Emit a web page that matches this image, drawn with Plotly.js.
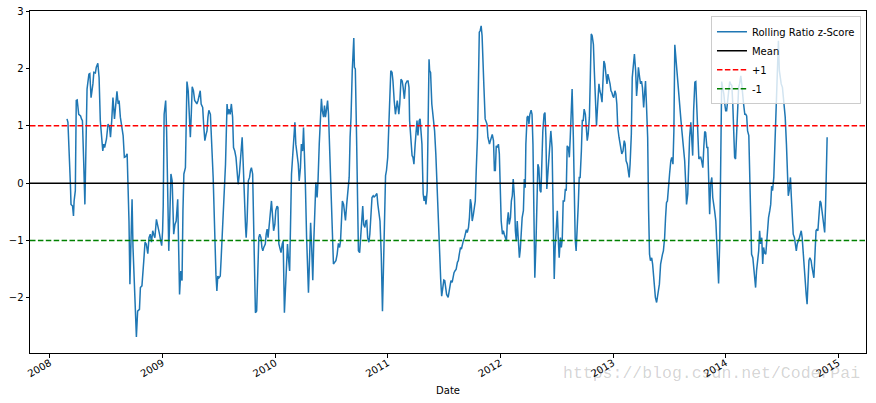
<!DOCTYPE html>
<html>
<head>
<meta charset="utf-8">
<script src="https://cdn.plot.ly/plotly-3.0.1.min.js"></script>
<style>html,body{margin:0;padding:0;background:#fff;}#chart{width:876px;height:403px;}</style>
</head>
<body>
<div id="chart"></div>
<script>
// Rolling ratio z-score
const dates = [
'2008-02-26','2008-02-29','2008-03-08','2008-03-10','2008-03-15','2008-03-18','2008-03-20','2008-03-24','2008-03-27','2008-03-30',
'2008-04-04','2008-04-10','2008-04-13','2008-04-16','2008-04-20','2008-04-24','2008-05-01','2008-05-07','2008-05-10','2008-05-14',
'2008-05-20','2008-05-23','2008-05-28','2008-05-31','2008-06-05','2008-06-09','2008-06-13','2008-06-17','2008-06-21','2008-06-24',
'2008-06-27','2008-07-03','2008-07-08','2008-07-13','2008-07-16','2008-07-20','2008-07-24','2008-07-29','2008-08-02','2008-08-06',
'2008-08-10','2008-08-13','2008-08-17','2008-08-23','2008-08-26','2008-08-30','2008-09-03','2008-09-08','2008-09-11','2008-09-14',
'2008-09-17','2008-09-21','2008-09-24','2008-09-27','2008-10-02','2008-10-08','2008-10-12','2008-10-18','2008-10-21','2008-10-26',
'2008-11-01','2008-11-05','2008-11-09','2008-11-14','2008-11-18','2008-11-22','2008-11-26','2008-11-30','2008-12-03','2008-12-07',
'2008-12-12','2008-12-16','2008-12-22','2008-12-26','2008-12-29','2009-01-01','2009-01-03','2009-01-06','2009-01-11','2009-01-14',
'2009-01-17','2009-01-21','2009-01-24','2009-01-28','2009-02-01','2009-02-04','2009-02-06','2009-02-10','2009-02-14','2009-02-19',
'2009-02-22','2009-02-25','2009-03-01','2009-03-05','2009-03-08','2009-03-11','2009-03-16','2009-03-18','2009-03-21','2009-03-25',
'2009-03-30','2009-04-01','2009-04-04','2009-04-07','2009-04-11','2009-04-15','2009-04-19','2009-04-22','2009-04-26','2009-04-30',
'2009-05-03','2009-05-06','2009-05-11','2009-05-14','2009-05-18','2009-05-22','2009-05-25','2009-05-28','2009-05-31','2009-06-05',
'2009-06-08','2009-06-11','2009-06-14','2009-06-18','2009-06-20','2009-06-23','2009-06-26','2009-06-29','2009-07-03','2009-07-07',
'2009-07-10','2009-07-13','2009-07-18','2009-07-21','2009-07-24','2009-07-29','2009-08-01','2009-08-04','2009-08-08','2009-08-12',
'2009-08-16','2009-08-19','2009-08-23','2009-08-27','2009-08-30','2009-09-03','2009-09-07','2009-09-10','2009-09-13','2009-09-16',
'2009-09-19','2009-09-23','2009-09-27','2009-09-29','2009-10-02','2009-10-06','2009-10-10','2009-10-13','2009-10-16','2009-10-20',
'2009-10-23','2009-10-26','2009-10-29','2009-11-02','2009-11-05','2009-11-09','2009-11-12','2009-11-16','2009-11-19','2009-11-22',
'2009-11-25','2009-11-30','2009-12-03','2009-12-06','2009-12-09','2009-12-14','2009-12-17','2009-12-20','2009-12-24','2009-12-27',
'2009-12-31','2010-01-03','2010-01-07','2010-01-10','2010-01-13','2010-01-16','2010-01-20','2010-01-24','2010-01-27','2010-01-31',
'2010-02-04','2010-02-07','2010-02-10','2010-02-13','2010-02-17','2010-02-23','2010-02-26','2010-03-03','2010-03-06','2010-03-09',
'2010-03-13','2010-03-17','2010-03-20','2010-03-24','2010-03-27','2010-03-31','2010-04-03','2010-04-06','2010-04-09','2010-04-13',
'2010-04-16','2010-04-19','2010-04-22','2010-04-26','2010-04-29','2010-05-03','2010-05-06','2010-05-10','2010-05-13','2010-05-17',
'2010-05-20','2010-05-24','2010-05-27','2010-05-31','2010-06-03','2010-06-07','2010-06-10','2010-06-13','2010-06-16','2010-06-20',
'2010-06-23','2010-06-26','2010-06-29','2010-07-03','2010-07-06','2010-07-09','2010-07-13','2010-07-17','2010-07-21','2010-07-25',
'2010-07-29','2010-08-01','2010-08-04','2010-08-07','2010-08-11','2010-08-14','2010-08-17','2010-08-21','2010-08-26','2010-08-29',
'2010-09-01','2010-09-04','2010-09-08','2010-09-11','2010-09-13','2010-09-15','2010-09-18','2010-09-22','2010-09-25','2010-09-28',
'2010-10-02','2010-10-06','2010-10-09','2010-10-12','2010-10-15','2010-10-19','2010-10-22','2010-10-25','2010-10-28','2010-11-01',
'2010-11-04','2010-11-07','2010-11-11','2010-11-15','2010-11-18','2010-11-22','2010-11-27','2010-11-30','2010-12-04','2010-12-07',
'2010-12-11','2010-12-15','2010-12-18','2010-12-21','2010-12-25','2010-12-28','2011-01-01','2011-01-04','2011-01-08','2011-01-11',
'2011-01-15','2011-01-18','2011-01-22','2011-01-26','2011-01-29','2011-02-01','2011-02-06','2011-02-09','2011-02-13','2011-02-17',
'2011-02-20','2011-02-24','2011-02-28','2011-03-05','2011-03-08','2011-03-11','2011-03-13','2011-03-17','2011-03-21','2011-03-24',
'2011-03-27','2011-03-31','2011-04-03','2011-04-06','2011-04-09','2011-04-13','2011-04-16','2011-04-19','2011-04-22','2011-04-26',
'2011-04-29','2011-05-02','2011-05-05','2011-05-09','2011-05-12','2011-05-15','2011-05-17','2011-05-20','2011-05-24','2011-05-27',
'2011-05-30','2011-06-02','2011-06-06','2011-06-09','2011-06-12','2011-06-15','2011-06-19','2011-06-22','2011-06-25','2011-06-28',
'2011-07-02','2011-07-05','2011-07-08','2011-07-11','2011-07-16','2011-07-19','2011-07-22','2011-07-25','2011-07-29','2011-08-01',
'2011-08-04','2011-08-07','2011-08-11','2011-08-15','2011-08-18','2011-08-21','2011-08-25','2011-08-28','2011-08-31','2011-09-03',
'2011-09-07','2011-09-10','2011-09-13','2011-09-16','2011-09-20','2011-09-23','2011-09-26','2011-09-29','2011-10-02','2011-10-06',
'2011-10-09','2011-10-12','2011-10-15','2011-10-19','2011-10-22','2011-10-25','2011-10-28','2011-10-31','2011-11-03','2011-11-06',
'2011-11-09','2011-11-13','2011-11-16','2011-11-19','2011-11-22','2011-11-27','2011-11-30','2011-12-03','2011-12-06','2011-12-10',
'2011-12-13','2011-12-16','2011-12-19','2011-12-22','2011-12-26','2011-12-29','2012-01-01','2012-01-04','2012-01-08','2012-01-11',
'2012-01-14','2012-01-17','2012-01-21','2012-01-24','2012-01-27','2012-01-30','2012-02-03','2012-02-06','2012-02-09','2012-02-12',
'2012-02-16','2012-02-19','2012-02-22','2012-02-25','2012-02-28','2012-03-03','2012-03-06','2012-03-09','2012-03-12','2012-03-16',
'2012-03-19','2012-03-22','2012-03-24','2012-03-28','2012-03-31','2012-04-03','2012-04-06','2012-04-10','2012-04-13','2012-04-16',
'2012-04-19','2012-04-22','2012-04-26','2012-04-29','2012-05-02','2012-05-05','2012-05-09','2012-05-12','2012-05-15','2012-05-18',
'2012-05-22','2012-05-25','2012-05-28','2012-05-31','2012-06-04','2012-06-07','2012-06-10','2012-06-13','2012-06-17','2012-06-20',
'2012-06-24','2012-06-27','2012-07-01','2012-07-04','2012-07-07','2012-07-10','2012-07-14','2012-07-17','2012-07-20','2012-07-23',
'2012-07-27','2012-07-30','2012-08-02','2012-08-05','2012-08-09','2012-08-12','2012-08-15','2012-08-18','2012-08-21','2012-08-25',
'2012-08-28','2012-08-31','2012-09-03','2012-09-07','2012-09-10','2012-09-13','2012-09-16','2012-09-20','2012-09-23','2012-09-26',
'2012-09-29','2012-10-03','2012-10-06','2012-10-09','2012-10-12','2012-10-16','2012-10-19','2012-10-22','2012-10-25','2012-10-29',
'2012-11-01','2012-11-04','2012-11-08','2012-11-12','2012-11-16','2012-11-19','2012-11-22','2012-11-26','2012-11-29','2012-12-02',
'2012-12-05','2012-12-09','2012-12-12','2012-12-15','2012-12-18','2012-12-22','2012-12-25','2012-12-28','2012-12-31','2013-01-03',
'2013-01-07','2013-01-10','2013-01-13','2013-01-16','2013-01-20','2013-01-23','2013-01-26','2013-01-29','2013-02-02','2013-02-06',
'2013-02-09','2013-02-12','2013-02-16','2013-02-19','2013-02-22','2013-02-25','2013-03-01','2013-03-04','2013-03-08','2013-03-11',
'2013-03-15','2013-03-18','2013-03-21','2013-03-24','2013-03-28','2013-03-31','2013-04-03','2013-04-06','2013-04-10','2013-04-13',
'2013-04-16','2013-04-19','2013-04-23','2013-04-26','2013-04-29','2013-05-02','2013-05-06','2013-05-09','2013-05-12','2013-05-15',
'2013-05-18','2013-05-22','2013-05-25','2013-05-28','2013-05-31','2013-06-04','2013-06-07','2013-06-10','2013-06-13','2013-06-17',
'2013-06-20','2013-06-23','2013-06-26','2013-06-30','2013-07-03','2013-07-07','2013-07-10','2013-07-14','2013-07-17','2013-07-20',
'2013-07-23','2013-07-27','2013-07-30','2013-08-02','2013-08-05','2013-08-09','2013-08-12','2013-08-15','2013-08-18','2013-08-21',
'2013-08-25','2013-08-27','2013-08-31','2013-09-03','2013-09-06','2013-09-10','2013-09-13','2013-09-16','2013-09-19','2013-09-23',
'2013-09-26','2013-09-29','2013-10-02','2013-10-06','2013-10-09','2013-10-12','2013-10-15','2013-10-19','2013-10-22','2013-10-25',
'2013-10-28','2013-11-01','2013-11-04','2013-11-07','2013-11-10','2013-11-13','2013-11-17','2013-11-20','2013-11-23','2013-11-26',
'2013-11-30','2013-12-03','2013-12-06','2013-12-09','2013-12-13','2013-12-16','2013-12-19','2013-12-22','2013-12-26','2013-12-29',
'2014-01-01','2014-01-04','2014-01-08','2014-01-11','2014-01-14','2014-01-17','2014-01-21','2014-01-24','2014-01-27','2014-01-30',
'2014-02-02','2014-02-06','2014-02-09','2014-02-12','2014-02-15','2014-02-19','2014-02-22','2014-02-25','2014-02-28','2014-03-04',
'2014-03-07','2014-03-10','2014-03-13','2014-03-17','2014-03-20','2014-03-23','2014-03-26','2014-03-30','2014-04-02','2014-04-05',
'2014-04-08','2014-04-11','2014-04-15','2014-04-18','2014-04-21','2014-04-24','2014-04-28','2014-05-01','2014-05-04','2014-05-07',
'2014-05-11','2014-05-14','2014-05-17','2014-05-20','2014-05-24','2014-05-27','2014-05-30','2014-06-02','2014-06-06','2014-06-09',
'2014-06-12','2014-06-15','2014-06-18','2014-06-21','2014-06-24','2014-06-27','2014-06-30','2014-07-04','2014-07-07','2014-07-10',
'2014-07-13','2014-07-17','2014-07-20','2014-07-23','2014-07-26','2014-07-30','2014-08-02','2014-08-05','2014-08-08','2014-08-12',
'2014-08-15','2014-08-18','2014-08-21','2014-08-25','2014-08-28','2014-08-31','2014-09-03','2014-09-06','2014-09-10','2014-09-13',
'2014-09-16','2014-09-19','2014-09-22','2014-09-25','2014-09-28','2014-10-01','2014-10-05','2014-10-08','2014-10-11','2014-10-14',
'2014-10-18','2014-10-21','2014-10-24','2014-10-27','2014-10-30','2014-11-03','2014-11-06','2014-11-09','2014-11-12','2014-11-16',
'2014-11-18','2014-11-21','2014-11-24','2014-11-26'
];
const zscore = [
1.12,1.06,-0.02,-0.37,-0.40,-0.57,-0.31,-0.13,1.44,1.45,
1.20,1.17,1.12,1.09,0.39,-0.37,1.64,1.90,1.91,1.49,
1.73,1.93,1.92,2.02,2.09,1.84,1.09,0.80,0.56,0.68,
0.62,0.77,1.03,0.98,0.80,1.09,1.49,1.12,1.38,1.60,
1.38,1.44,1.15,0.91,0.83,0.45,0.46,0.51,-0.02,-0.66,
-1.76,-0.95,-0.28,-1.12,-1.99,-2.68,-2.23,-2.20,-1.82,-1.79,
-1.35,-1.03,-1.06,-1.23,-0.95,-0.89,-1.03,-0.83,-0.89,-0.95,
-0.63,-0.72,-0.89,-1.01,-1.09,-0.83,-0.40,1.20,1.44,0.91,
-0.37,-1.18,-0.66,0.16,0.04,-0.60,-0.89,-0.72,-0.66,-0.28,
-0.95,-1.94,-1.53,-1.70,-0.48,0.16,0.27,1.32,1.77,1.61,
1.15,0.80,1.20,1.68,1.61,1.44,1.41,1.38,1.44,1.52,
1.61,1.38,1.32,1.03,0.74,0.85,0.91,1.15,1.27,1.20,
0.91,0.56,0.10,-0.66,-1.35,-1.59,-1.88,-1.62,-1.65,-1.62,
-1.30,-0.95,-0.48,-0.25,0.33,1.38,1.20,1.29,1.20,1.38,
1.15,0.62,0.56,0.45,0.22,-0.02,0.16,0.39,0.62,0.80,
0.39,-0.37,-0.77,-0.95,-0.66,0.04,0.10,0.22,0.27,0.16,
-0.60,-1.53,-2.26,-2.23,-1.65,-0.95,-0.89,-0.95,-1.12,-1.18,
-1.12,-1.06,-0.89,-0.80,-0.95,-0.60,-0.37,-0.31,-0.60,-0.83,
-0.72,-0.48,-0.40,-0.42,-1.06,-1.12,-1.21,-1.06,-1.01,-2.26,
-1.70,-1.35,-1.06,-1.30,-1.53,0.16,0.39,0.91,1.06,0.68,
0.51,0.33,0.04,0.27,0.68,0.56,0.97,0.56,-0.02,-0.95,
-1.53,-1.91,-1.41,-0.69,-1.06,-1.69,-1.06,-0.48,0.01,-0.25,
0.04,0.68,1.17,1.47,1.26,1.15,1.35,1.15,1.26,1.44,
1.20,0.68,0.10,-0.60,-0.95,-1.41,-1.38,-1.35,-1.24,-1.05,
-1.12,-1.01,-0.66,-0.31,-0.37,-0.51,-0.65,-0.37,-0.13,0.10,
0.80,1.15,1.96,2.25,2.53,2.02,1.99,0.80,-0.25,-1.18,
-1.21,-0.95,-0.60,-0.40,-0.72,-0.77,-0.66,-0.65,-0.95,-1.03,
-0.89,-0.48,-0.25,-0.22,-0.24,-0.22,-0.18,-0.37,-0.51,-0.66,
-1.24,-2.23,-1.53,-0.83,0.13,0.22,0.45,0.91,1.38,1.96,
1.93,1.78,1.44,1.20,1.32,1.44,1.20,1.38,1.81,1.78,
1.67,1.47,1.73,1.78,1.78,1.67,1.09,0.80,0.48,0.45,
0.33,0.68,0.97,1.09,0.83,1.09,1.12,0.91,0.68,-0.19,
-0.31,-0.22,-0.37,-0.13,1.67,2.16,1.96,1.93,1.38,1.20,
1.09,0.91,0.51,0.10,-0.48,-1.01,-1.41,-1.70,-1.97,-1.82,
-1.69,-1.70,-1.82,-1.94,-1.99,-1.88,-1.76,-1.70,-1.73,-1.59,
-1.56,-1.53,-1.50,-1.38,-1.35,-1.24,-1.12,-1.15,-1.06,-1.01,
-0.95,-0.89,-0.81,-0.86,-0.77,-0.60,-0.28,-0.37,-0.66,-0.54,
-0.42,-0.31,0.22,0.80,1.67,2.63,2.66,2.74,2.57,2.25,
1.67,1.12,1.08,1.03,0.80,0.68,0.74,0.80,0.85,0.74,
0.22,0.22,0.65,0.62,0.68,0.51,-0.37,-0.66,-0.89,-0.83,
-0.89,-0.95,-1.01,-0.66,-0.51,-0.72,-0.60,-0.31,-0.22,0.07,
-0.25,-0.83,-1.01,-0.66,-0.89,-1.30,-1.15,-0.83,-0.60,-0.48,
0.07,-0.08,0.68,1.15,1.17,1.03,1.20,1.27,1.20,0.68,
-0.48,-1.65,-1.01,-0.25,0.33,0.27,-0.13,-0.16,0.62,0.91,
1.20,1.23,0.80,-0.10,0.22,0.39,0.68,0.91,0.62,-0.37,
-1.67,-1.12,-0.66,-0.48,-0.95,-1.30,-0.95,-1.12,-0.98,-0.31,
-0.31,-0.10,-0.13,0.65,0.62,0.45,0.80,1.20,1.64,0.80,
-0.48,-0.98,-1.18,-0.83,-0.37,0.10,0.10,0.56,1.09,1.09,
1.29,1.20,1.03,0.74,0.85,1.15,1.84,2.60,2.57,2.42,
1.96,1.49,1.00,1.38,1.73,1.61,1.55,1.41,1.73,2.13,
2.08,1.84,1.73,1.90,1.84,1.73,1.61,1.58,1.52,1.49,
1.61,1.55,1.38,0.97,0.80,0.68,0.59,0.51,0.56,0.74,
0.68,0.39,0.33,0.22,0.10,0.33,0.85,1.84,2.13,2.25,
1.96,1.52,1.73,2.02,1.84,1.73,1.78,1.67,1.32,1.49,
1.78,1.38,0.80,-0.48,-1.24,-1.35,-1.30,-1.41,-1.59,-1.82,
-1.99,-2.08,-1.99,-1.88,-1.76,-1.41,-1.30,-1.24,-1.18,-0.95,
-0.60,-0.34,-0.31,0.04,0.16,0.39,0.45,0.33,0.91,2.41,
2.19,1.96,1.67,1.61,1.38,1.09,0.91,0.74,0.62,0.39,
-0.08,-0.37,-0.19,0.33,0.80,1.06,0.80,0.48,1.26,1.76,
1.77,1.38,0.80,0.42,0.45,0.45,0.39,0.27,0.62,0.90,
0.88,0.62,0.62,0.16,-0.54,-0.02,0.10,-0.25,-0.42,-0.48,
-0.66,-0.95,-1.47,-1.75,-0.95,0.80,1.77,1.67,1.55,1.38,
1.26,1.26,1.49,1.70,1.77,1.73,1.70,1.38,0.68,0.45,
0.42,1.03,1.44,1.67,1.73,1.87,1.73,1.49,1.38,1.20,
1.20,1.17,0.91,0.83,0.22,-0.66,-1.24,-1.30,-1.53,-1.70,
-1.82,-1.53,-1.30,-1.18,-0.83,-1.06,-0.95,-1.41,-1.12,-1.21,
-1.24,-1.01,-0.89,-0.60,-0.48,-0.37,-0.05,-0.13,0.10,0.62,
1.09,1.49,2.08,2.48,1.96,1.78,1.73,1.67,1.49,1.38,
1.15,0.68,0.10,-0.22,-0.13,0.10,-0.25,-0.60,-0.89,-0.95,
-1.12,-1.18,-1.06,-1.01,-0.95,-0.89,-0.83,-0.95,-1.30,-1.47,
-1.65,-1.94,-2.11,-1.65,-1.35,-1.30,-1.35,-1.47,-1.59,-1.65,
-1.18,-0.83,-0.80,-0.83,-0.60,-0.31,-0.34,-0.48,-0.66,-0.77,
-0.86,-0.37,0.22,0.80
];

// Reference levels
const meanLevel = 0;
const upperLevel = 1;
const lowerLevel = -1;

// Axis extents and ticks
const xRange = ['2007-10-29', '2015-04-01'];
const yRange = [-2.96, 3.0];
const yearTicks = ['2008-01-01','2009-01-01','2010-01-01','2011-01-01','2012-01-01','2013-01-01','2014-01-01','2015-01-01'];
const yearLabels = ['2008','2009','2010','2011','2012','2013','2014','2015'];
const seriesNames = ['Rolling Ratio z-Score', 'Mean', '+1', '-1'];
const watermark = 'https://blog.csdn.net/CoderPai';

const font = {family: 'DejaVu Sans, sans-serif', size: 10, color: '#000'};

const traces = [
  {x: dates, y: zscore, type: 'scatter', mode: 'lines', name: seriesNames[0],
   line: {color: '#1f77b4', width: 1.5}, hoverinfo: 'skip'},
  {x: xRange, y: [meanLevel, meanLevel], type: 'scatter', mode: 'lines', name: seriesNames[1],
   line: {color: '#000000', width: 1.5}, hoverinfo: 'skip'},
  {x: xRange, y: [upperLevel, upperLevel], type: 'scatter', mode: 'lines', name: seriesNames[2],
   line: {color: '#ff0000', width: 1.5, dash: '5.5px,2.4px'}, hoverinfo: 'skip'},
  {x: xRange, y: [lowerLevel, lowerLevel], type: 'scatter', mode: 'lines', name: seriesNames[3],
   line: {color: '#008000', width: 1.5, dash: '5.5px,2.4px'}, hoverinfo: 'skip'}
];

const axisCommon = {
  showline: true, mirror: true, linecolor: '#000', linewidth: 1,
  ticks: 'outside', ticklen: 3.5, tickwidth: 1, tickcolor: '#000',
  showgrid: false, zeroline: false, tickfont: font, automargin: false
};

const layout = {
  width: 876, height: 403,
  margin: {l: 30, r: 10, t: 11, b: 50, pad: 0},
  paper_bgcolor: '#fff', plot_bgcolor: '#fff',
  font: font,
  showlegend: true,
  legend: {x: 0.994, y: 0.985, xanchor: 'right', yanchor: 'top',
    bgcolor: 'rgba(255,255,255,0.8)', bordercolor: '#cccccc', borderwidth: 1,
    font: font, itemwidth: 30, tracegroupgap: 0},
  xaxis: Object.assign({}, axisCommon, {
    type: 'date', range: xRange, tickmode: 'array', tickvals: yearTicks, ticktext: yearLabels,
    tickangle: -30, ticklabelstandoff: -4, title: {text: 'Date', font: font, standoff: 8}
  }),
  yaxis: Object.assign({}, axisCommon, {
    range: yRange, tickmode: 'linear', tick0: 0, dtick: 1
  }),
  annotations: [{
    text: watermark, xref: 'paper', yref: 'paper', x: 0.995, y: -0.061,
    xanchor: 'right', yanchor: 'middle', showarrow: false,
    font: {family: 'Liberation Mono, DejaVu Sans Mono, monospace', size: 16.5, color: 'rgba(0,0,0,0.18)'}
  }]
};

Plotly.newPlot('chart', traces, layout, {staticPlot: true, displayModeBar: false});
</script>
</body>
</html>
